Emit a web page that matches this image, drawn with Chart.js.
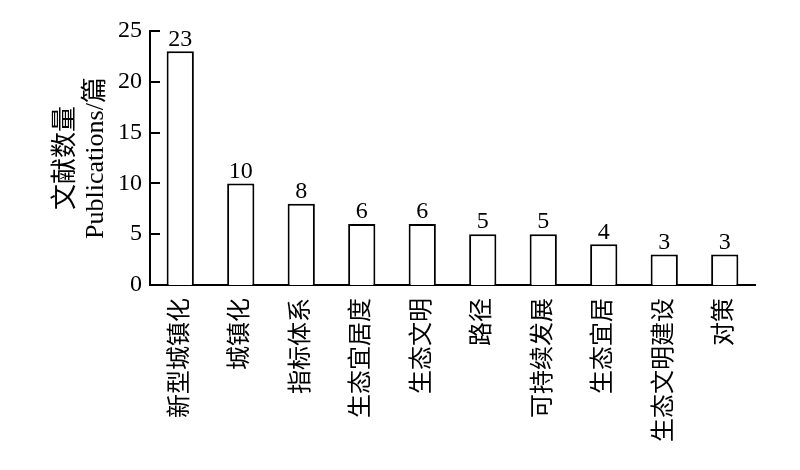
<!DOCTYPE html>
<html><head><meta charset="utf-8">
<script src="https://cdn.jsdelivr.net/npm/chart.js@4"></script>
<style>html,body{margin:0;padding:0;background:#fff}#w{width:800px;height:470px}</style>
</head><body><div id="w"><canvas id="c"></canvas></div>
<script>
const categories = ['新型城镇化','城镇化','指标体系','生态宜居度','生态文明','路径','可持续发展','生态宜居','生态文明建设','对策'];
const publications = [23, 10, 8, 6, 6, 5, 5, 4, 3, 3];
const yTicks = [0, 5, 10, 15, 20, 25];
const yTitle = ['文献数量', 'Publications/篇'];

const FONT = "'Liberation Serif', 'Noto Sans CJK SC', serif";

const extras = {
  id: 'extras',
  afterDatasetsDraw(chart) {
    const ctx = chart.ctx;
    const y = chart.scales.y;
    ctx.save();
    ctx.strokeStyle = '#000';
    ctx.lineWidth = 2;
    yTicks.forEach(v => {
      const py = Math.round(y.getPixelForValue(v));
      ctx.beginPath();
      ctx.moveTo(chart.chartArea.left, py);
      ctx.lineTo(chart.chartArea.left + 10, py);
      ctx.stroke();
    });
    const meta = chart.getDatasetMeta(0);
    ctx.fillStyle = '#000';
    ctx.font = "24px " + FONT;
    ctx.textAlign = 'center';
    ctx.textBaseline = 'bottom';
    meta.data.forEach((bar, i) => {
      ctx.fillText(String(publications[i]), bar.x, bar.y);
    });
    ctx.restore();
  }
};

new Chart(document.getElementById('c'), {
  type: 'bar',
  data: {
    labels: categories,
    datasets: [{
      data: publications,
      backgroundColor: '#fff',
      borderColor: '#000',
      borderWidth: 2,
      borderSkipped: 'bottom',
      barPercentage: 0.45,
      categoryPercentage: 1
    }]
  },
  options: {
    responsive: true,
    maintainAspectRatio: false,
    animation: false,
    layout: { padding: { left: 51, right: 45, top: 31, bottom: 0 } },
    plugins: { legend: { display: false }, tooltip: { enabled: false } },
    scales: {
      x: {
        grid: { display: false, drawTicks: false },
        border: { display: true, color: '#000', width: 2 },
        ticks: {
          color: '#000', padding: 13, autoSkip: false,
          minRotation: 90, maxRotation: 90,
          font: { family: FONT, size: 24 }
        },
        afterFit(s) { s.height = 185; }
      },
      y: {
        min: 0, max: 25,
        afterBuildTicks(s) { s.ticks = yTicks.map(v => ({ value: v })); },
        grid: { display: false, drawTicks: false },
        border: { display: true, color: '#000', width: 2 },
        ticks: { color: '#000', padding: 8, font: { family: FONT, size: 24 } },
        title: {
          display: true, text: yTitle, color: '#000',
          font: { family: FONT, size: 26, lineHeight: 1.15 }, padding: 0
        },
        afterFit(s) { s.width = 99; }
      }
    }
  },
  plugins: [extras]
});
</script></body></html>
